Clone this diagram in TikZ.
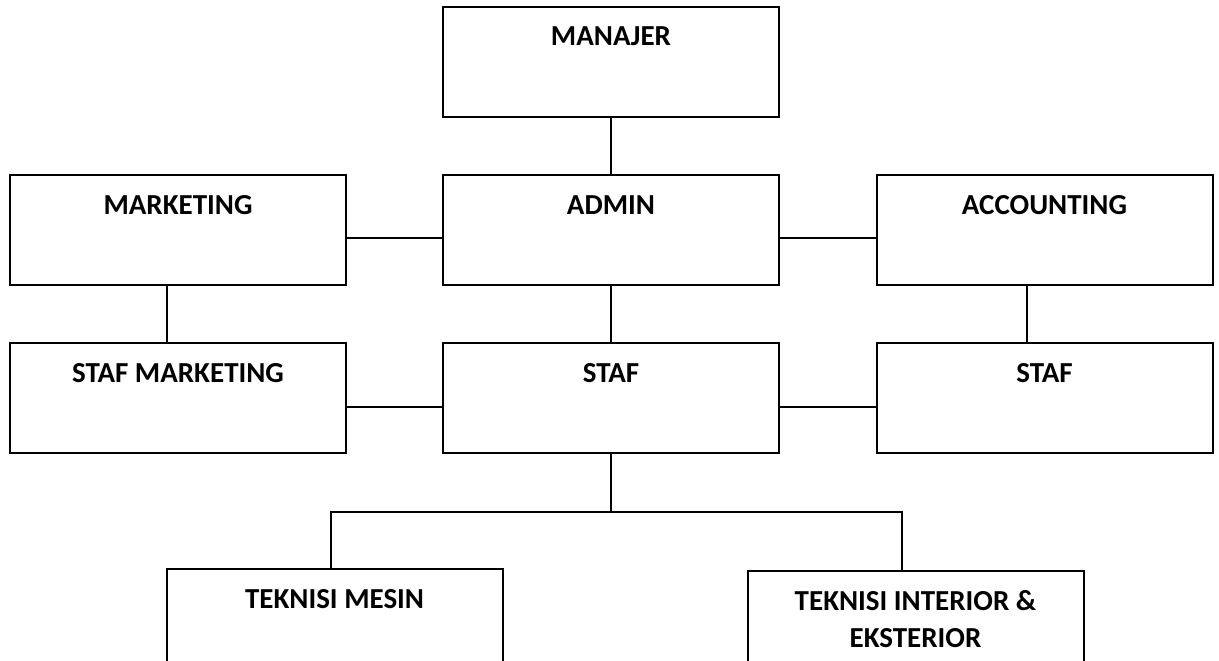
\documentclass[tikz,border=0pt]{standalone}
\usepackage{fontspec}
\setmainfont{Carlito}
\usepackage{tikz}

\begin{document}
\begin{tikzpicture}[x=1pt, y=-1pt,
    unit/.style={draw=black, line width=2pt, rectangle, inner sep=0pt,
      minimum width=336pt, minimum height=110pt},
    title/.style={font=\fontsize{29}{37}\selectfont\bfseries, anchor=base, yshift=-40pt, align=center},
    link/.style={line width=1.6pt}]
  \useasboundingbox (0,0) rectangle (1219,661);
  \clip (0,0) rectangle (1219,661);
  % top
  \node[unit, label={[title]north:MANAJER}] (manajer) at (611,62) {};
  % middle rows
  \node[unit, label={[title]north:MARKETING}] (marketing) at (178,230) {};
  \node[unit, label={[title]north:ADMIN}] (admin) at (611,230) {};
  \node[unit, label={[title]north:ACCOUNTING}] (accounting) at (1044.5,230) {};
  \node[unit, label={[title]north:STAF MARKETING}] (stafmkt) at (178,398) {};
  \node[unit, label={[title]north:STAF}] (staf) at (611,398) {};
  \node[unit, label={[title]north:STAF}] (stafacc) at (1044.5,398) {};
  % bottom row (cut off by the page)
  \node[unit, minimum height=200pt, label={[title]north:TEKNISI MESIN}] (mesin) at (334.5,669) {};
  \node[unit, minimum height=200pt, label={[title, yshift=-37pt]north:TEKNISI INTERIOR \&\\EKSTERIOR}] (interior) at (915.5,671) {};
  % links
  \draw[link] (manajer.south) -- (admin.north);
  \draw[link] ([yshift=-8pt]marketing.east) -- ([yshift=-8pt]admin.west);
  \draw[link] ([yshift=-8pt]admin.east) -- ([yshift=-8pt]accounting.west);
  \draw[link] ([xshift=-11pt]marketing.south) -- ([xshift=-11pt]stafmkt.north);
  \draw[link] (admin.south) -- (staf.north);
  \draw[link] ([xshift=-17.5pt]accounting.south) -- ([xshift=-17.5pt]stafacc.north);
  \draw[link] ([yshift=-9pt]stafmkt.east) -- ([yshift=-9pt]staf.west);
  \draw[link] ([yshift=-9pt]staf.east) -- ([yshift=-9pt]stafacc.west);
  \draw[link] (staf.south) -- ++(0,58) coordinate (bus);
  \draw[link] ([xshift=-3.5pt]mesin.north) |- (bus) -| ([xshift=-13.5pt]interior.north);
\end{tikzpicture}
\end{document}
